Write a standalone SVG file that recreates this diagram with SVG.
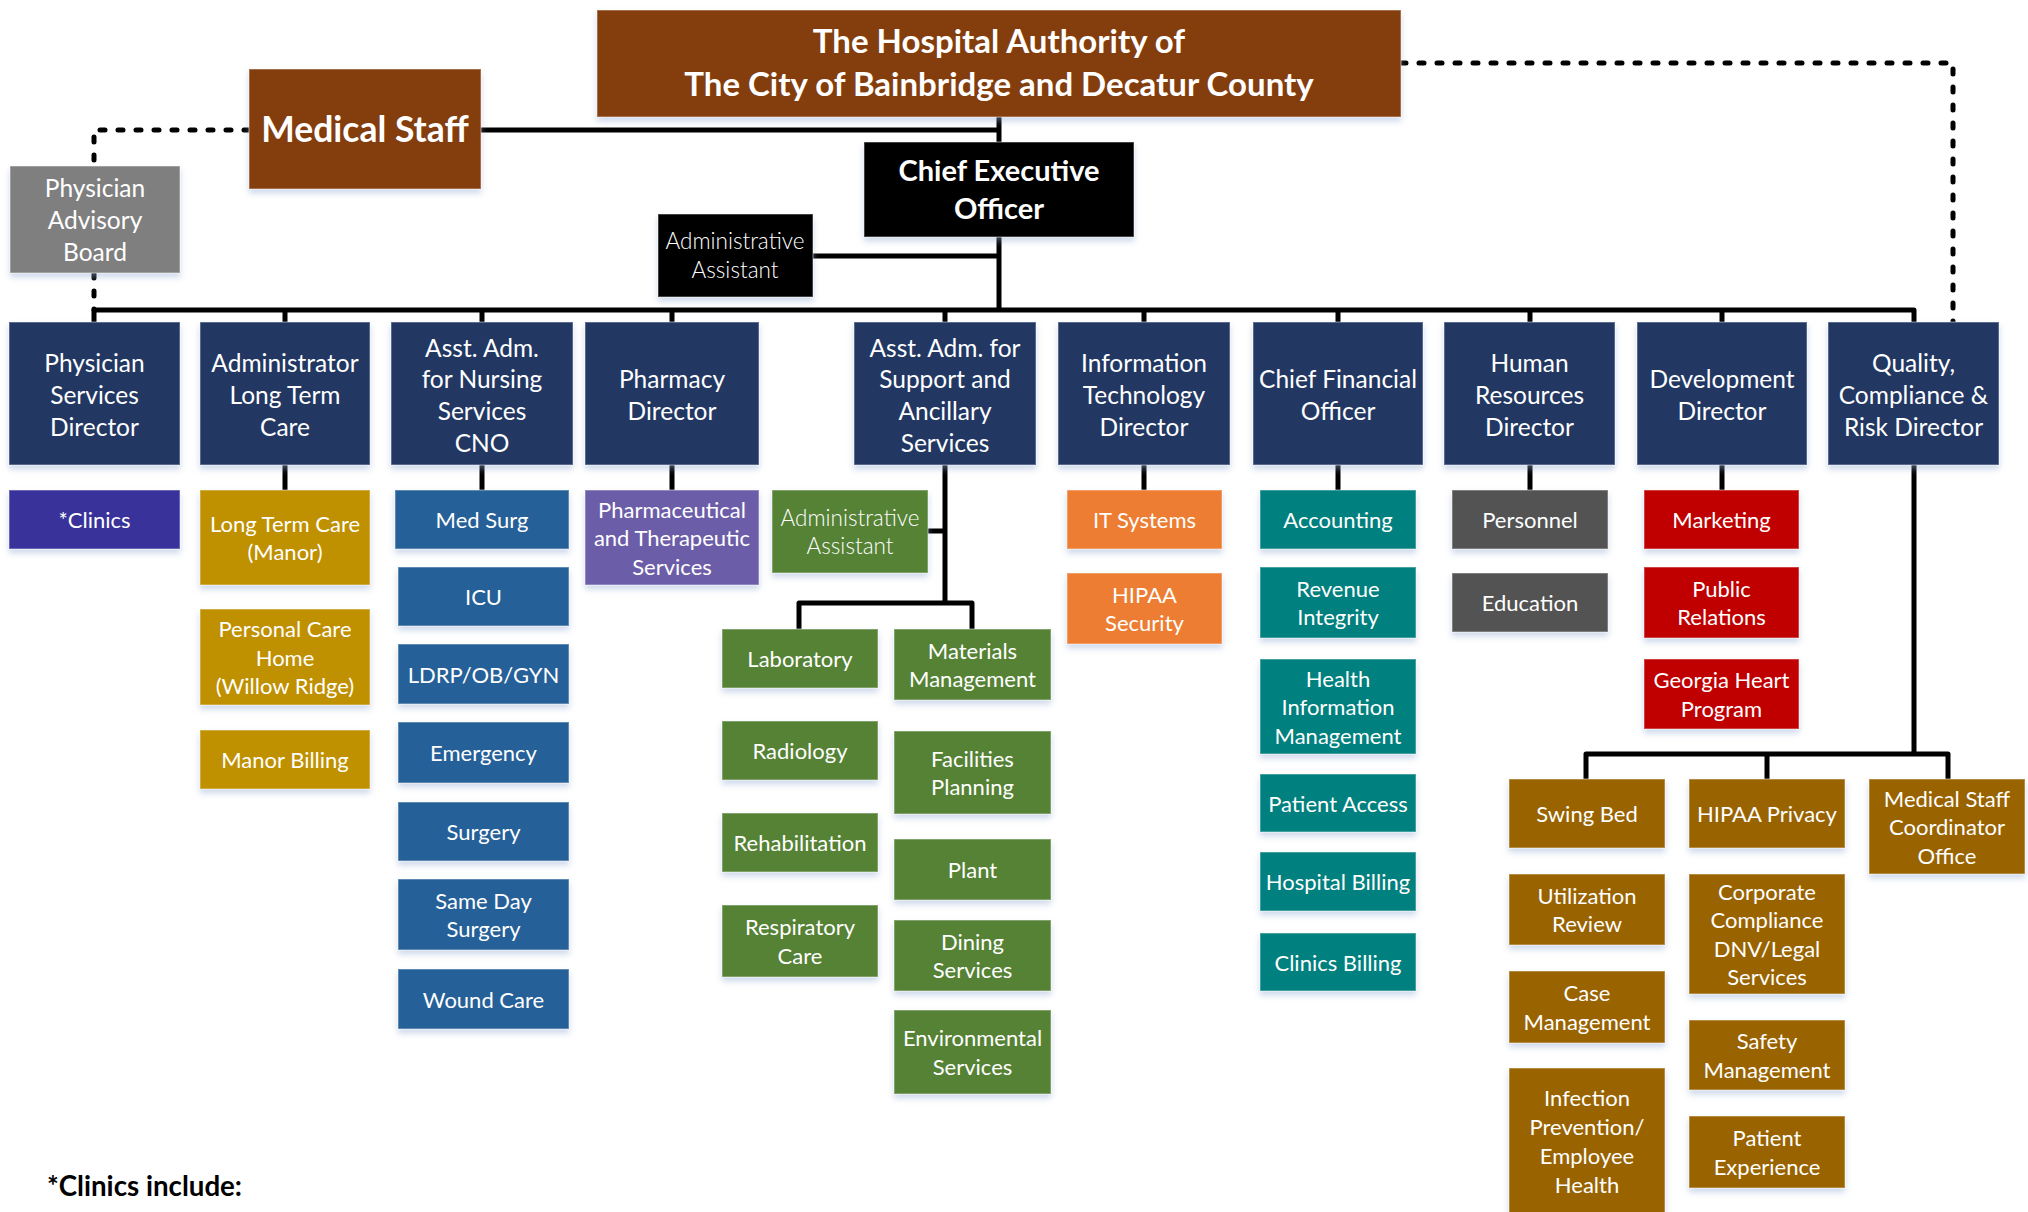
<svg xmlns="http://www.w3.org/2000/svg" width="2028" height="1212" viewBox="0 0 2028 1212">
<defs>
<filter id="sh" x="-10%" y="-10%" width="120%" height="135%">
<feDropShadow dx="0" dy="4" stdDeviation="3" flood-color="#8FA8D0" flood-opacity="0.45"/>
</filter>
<style>
rect{filter:url(#sh);stroke:#ffffff;stroke-opacity:0.35;stroke-width:1.5}
text{font-family:Lato,"Noto Sans",sans-serif;fill:#ffffff;text-anchor:middle}
.d{font-size:24.5px}
.c{font-size:22px}
.l{font-size:22.5px;font-weight:300}
.b{font-weight:700}
.navy{fill:#203864}.brown{fill:#843C0C}.gray{fill:#7F7F7F}.blk{fill:#000000}
.ind{fill:#38329A}.gold{fill:#BF9000}.blue{fill:#266198}.purp{fill:#6C5DA8}
.grn{fill:#548235}.org{fill:#ED7D31}.teal{fill:#02807E}.dg{fill:#525252}
.red{fill:#C00000}.ochre{fill:#996300}
.ln{fill:none;stroke:#000;stroke-width:5;stroke-linejoin:round}
.dot{fill:none;stroke:#000;stroke-width:5;stroke-linecap:round;stroke-dasharray:5 13}
</style>
</defs>
<rect width="2028" height="1212" fill="#ffffff" style="filter:none;stroke:none"/>
<g id="connectors">
<path class="ln" d="M999,117V142M481,130H999M999,237V310M812,256H999"/>
<path class="ln" d="M94,322V310H1914V322M285,310V322M482,310V322M672,310V322M945,310V322M1144,310V322M1338,310V322M1530,310V322M1722,310V322"/>
<path class="ln" d="M285,465V490M482,465V490M672,465V490M1144,465V490M1338,465V490M1530,465V490M1722,465V490"/>
<path class="ln" d="M945,465V603M928,531H945M799,629V603H972V629"/>
<path class="ln" d="M1914,465V754M1586,779V754H1948V779M1767,754V779"/>
<path class="dot" d="M249,130H94V166M94,273V310"/>
<path class="dot" d="M1401,63H1953V322"/>
</g>
<g id="authority"><rect class="brown" x="597" y="10" width="804" height="107"/>
<text class="b" font-size="33"><tspan x="999" y="53">The Hospital Authority of</tspan><tspan x="999" y="96">The City of Bainbridge and Decatur County</tspan></text></g>
<g id="medical-staff"><rect class="brown" x="249" y="69" width="232" height="120"/>
<text class="b" font-size="35.5" x="365" y="142">Medical Staff</text></g>
<g id="physician-advisory-board"><rect class="gray" x="10" y="166" width="170" height="107"/>
<text class="d"><tspan x="95" y="197">Physician</tspan><tspan x="95" y="229">Advisory</tspan><tspan x="95" y="261">Board</tspan></text></g>
<g id="ceo"><rect class="blk" x="864" y="142" width="270" height="95"/>
<text class="b" font-size="29"><tspan x="999" y="181">Chief Executive</tspan><tspan x="999" y="219">Officer</tspan></text></g>
<g id="admin-assistant-ceo"><rect class="blk" x="658" y="214" width="155" height="83"/>
<text class="l"><tspan x="735" y="249">Administrative</tspan><tspan x="735" y="278">Assistant</tspan></text></g>

<g id="physician-services"><rect class="navy" x="9" y="322" width="171" height="143"/>
<text class="d"><tspan x="94.5" y="372.3">Physician</tspan><tspan x="94.5" y="404">Services</tspan><tspan x="94.5" y="435.7">Director</tspan></text></g>
<g id="admin-ltc"><rect class="navy" x="200" y="322" width="170" height="143"/>
<text class="d"><tspan x="285" y="372.3">Administrator</tspan><tspan x="285" y="404">Long Term</tspan><tspan x="285" y="435.7">Care</tspan></text></g>
<g id="cno"><rect class="navy" x="391" y="322" width="182" height="143"/>
<text class="d"><tspan x="482" y="356.5">Asst. Adm.</tspan><tspan x="482" y="388.2">for Nursing</tspan><tspan x="482" y="419.9">Services</tspan><tspan x="482" y="451.6">CNO</tspan></text></g>
<g id="pharmacy"><rect class="navy" x="585" y="322" width="174" height="143"/>
<text class="d"><tspan x="672" y="387.9">Pharmacy</tspan><tspan x="672" y="419.6">Director</tspan></text></g>
<g id="support"><rect class="navy" x="854" y="322" width="182" height="143"/>
<text class="d"><tspan x="945" y="356.5">Asst. Adm. for</tspan><tspan x="945" y="388.2">Support and</tspan><tspan x="945" y="419.9">Ancillary</tspan><tspan x="945" y="451.6">Services</tspan></text></g>
<g id="it"><rect class="navy" x="1058" y="322" width="172" height="143"/>
<text class="d"><tspan x="1144" y="372.3">Information</tspan><tspan x="1144" y="404">Technology</tspan><tspan x="1144" y="435.7">Director</tspan></text></g>
<g id="cfo"><rect class="navy" x="1253" y="322" width="170" height="143"/>
<text class="d"><tspan x="1338" y="387.9">Chief Financial</tspan><tspan x="1338" y="419.6">Officer</tspan></text></g>
<g id="hr"><rect class="navy" x="1444" y="322" width="171" height="143"/>
<text class="d"><tspan x="1529.5" y="372.3">Human</tspan><tspan x="1529.5" y="404">Resources</tspan><tspan x="1529.5" y="435.7">Director</tspan></text></g>
<g id="development"><rect class="navy" x="1637" y="322" width="170" height="143"/>
<text class="d"><tspan x="1722" y="387.9">Development</tspan><tspan x="1722" y="419.6">Director</tspan></text></g>
<g id="quality"><rect class="navy" x="1828" y="322" width="171" height="143"/>
<text class="d"><tspan x="1913.5" y="372.3">Quality,</tspan><tspan x="1913.5" y="404">Compliance &amp;</tspan><tspan x="1913.5" y="435.7">Risk Director</tspan></text></g>

<g id="clinics"><rect class="ind" x="9" y="490" width="171" height="59"/><text class="c" x="94.5" y="528">*Clinics</text></g>
<g id="ltc-manor"><rect class="gold" x="200" y="490" width="170" height="95"/>
<text class="c"><tspan x="285" y="531.8">Long Term Care</tspan><tspan x="285" y="560.3">(Manor)</tspan></text></g>
<g id="personal-care"><rect class="gold" x="200" y="609" width="170" height="96"/>
<text class="c"><tspan x="285" y="637">Personal Care</tspan><tspan x="285" y="665.5">Home</tspan><tspan x="285" y="694">(Willow Ridge)</tspan></text></g>
<g id="manor-billing"><rect class="gold" x="200" y="730" width="170" height="59"/><text class="c" x="285" y="768">Manor Billing</text></g>

<g id="med-surg"><rect class="blue" x="395" y="490" width="174" height="59"/><text class="c" x="482" y="528">Med Surg</text></g>
<g id="icu"><rect class="blue" x="398" y="567" width="171" height="59"/><text class="c" x="483.5" y="605">ICU</text></g>
<g id="ldrp"><rect class="blue" x="398" y="644" width="171" height="60"/><text class="c" x="483.5" y="682.5">LDRP/OB/GYN</text></g>
<g id="emergency"><rect class="blue" x="398" y="722" width="171" height="61"/><text class="c" x="483.5" y="761">Emergency</text></g>
<g id="surgery"><rect class="blue" x="398" y="802" width="171" height="59"/><text class="c" x="483.5" y="840">Surgery</text></g>
<g id="same-day"><rect class="blue" x="398" y="879" width="171" height="71"/>
<text class="c"><tspan x="483.5" y="908.8">Same Day</tspan><tspan x="483.5" y="937.3">Surgery</tspan></text></g>
<g id="wound-care"><rect class="blue" x="398" y="969" width="171" height="60"/><text class="c" x="483.5" y="1007.5">Wound Care</text></g>

<g id="pharmaceutical"><rect class="purp" x="585" y="490" width="174" height="95"/>
<text class="c"><tspan x="672" y="517.5">Pharmaceutical</tspan><tspan x="672" y="546">and Therapeutic</tspan><tspan x="672" y="574.5">Services</tspan></text></g>

<g id="admin-assistant-support"><rect class="grn" x="772" y="490" width="156" height="83"/>
<text class="l"><tspan x="850" y="525.8">Administrative</tspan><tspan x="850" y="554.3">Assistant</tspan></text></g>
<g id="laboratory"><rect class="grn" x="722" y="629" width="156" height="59"/><text class="c" x="800" y="667">Laboratory</text></g>
<g id="materials"><rect class="grn" x="894" y="629" width="157" height="71"/>
<text class="c"><tspan x="972.5" y="658.8">Materials</tspan><tspan x="972.5" y="687.3">Management</tspan></text></g>
<g id="radiology"><rect class="grn" x="722" y="721" width="156" height="59"/><text class="c" x="800" y="759">Radiology</text></g>
<g id="facilities"><rect class="grn" x="894" y="731" width="157" height="83"/>
<text class="c"><tspan x="972.5" y="766.8">Facilities</tspan><tspan x="972.5" y="795.3">Planning</tspan></text></g>
<g id="rehabilitation"><rect class="grn" x="722" y="813" width="156" height="59"/><text class="c" x="800" y="851">Rehabilitation</text></g>
<g id="plant"><rect class="grn" x="894" y="839" width="157" height="61"/><text class="c" x="972.5" y="878">Plant</text></g>
<g id="respiratory"><rect class="grn" x="722" y="905" width="156" height="72"/>
<text class="c"><tspan x="800" y="935.3">Respiratory</tspan><tspan x="800" y="963.8">Care</tspan></text></g>
<g id="dining"><rect class="grn" x="894" y="920" width="157" height="71"/>
<text class="c"><tspan x="972.5" y="949.8">Dining</tspan><tspan x="972.5" y="978.3">Services</tspan></text></g>
<g id="environmental"><rect class="grn" x="894" y="1010" width="157" height="84"/>
<text class="c"><tspan x="972.5" y="1046.3">Environmental</tspan><tspan x="972.5" y="1074.8">Services</tspan></text></g>

<g id="it-systems"><rect class="org" x="1067" y="490" width="155" height="59"/><text class="c" x="1144.5" y="528">IT Systems</text></g>
<g id="hipaa-security"><rect class="org" x="1067" y="573" width="155" height="71"/>
<text class="c"><tspan x="1144.5" y="602.8">HIPAA</tspan><tspan x="1144.5" y="631.3">Security</tspan></text></g>

<g id="accounting"><rect class="teal" x="1260" y="490" width="156" height="59"/><text class="c" x="1338" y="528">Accounting</text></g>
<g id="revenue"><rect class="teal" x="1260" y="567" width="156" height="71"/>
<text class="c"><tspan x="1338" y="596.8">Revenue</tspan><tspan x="1338" y="625.3">Integrity</tspan></text></g>
<g id="him"><rect class="teal" x="1260" y="659" width="156" height="95"/>
<text class="c"><tspan x="1338" y="686.5">Health</tspan><tspan x="1338" y="715">Information</tspan><tspan x="1338" y="743.5">Management</tspan></text></g>
<g id="patient-access"><rect class="teal" x="1260" y="774" width="156" height="58"/><text class="c" x="1338" y="811.5">Patient Access</text></g>
<g id="hospital-billing"><rect class="teal" x="1260" y="852" width="156" height="59"/><text class="c" x="1338" y="890">Hospital Billing</text></g>
<g id="clinics-billing"><rect class="teal" x="1260" y="933" width="156" height="58"/><text class="c" x="1338" y="970.5">Clinics Billing</text></g>

<g id="personnel"><rect class="dg" x="1452" y="490" width="156" height="59"/><text class="c" x="1530" y="528">Personnel</text></g>
<g id="education"><rect class="dg" x="1452" y="573" width="156" height="59"/><text class="c" x="1530" y="611">Education</text></g>

<g id="marketing"><rect class="red" x="1644" y="490" width="155" height="59"/><text class="c" x="1721.5" y="528">Marketing</text></g>
<g id="public-relations"><rect class="red" x="1644" y="567" width="155" height="71"/>
<text class="c"><tspan x="1721.5" y="596.8">Public</tspan><tspan x="1721.5" y="625.3">Relations</tspan></text></g>
<g id="georgia-heart"><rect class="red" x="1644" y="659" width="155" height="70"/>
<text class="c"><tspan x="1721.5" y="688.3">Georgia Heart</tspan><tspan x="1721.5" y="716.8">Program</tspan></text></g>

<g id="swing-bed"><rect class="ochre" x="1509" y="779" width="156" height="69"/><text class="c" x="1587" y="822">Swing Bed</text></g>
<g id="hipaa-privacy"><rect class="ochre" x="1689" y="779" width="156" height="69"/><text class="c" x="1767" y="822">HIPAA Privacy</text></g>
<g id="msco"><rect class="ochre" x="1869" y="779" width="156" height="95"/>
<text class="c"><tspan x="1947" y="806.5">Medical Staff</tspan><tspan x="1947" y="835">Coordinator</tspan><tspan x="1947" y="863.5">Office</tspan></text></g>
<g id="utilization"><rect class="ochre" x="1509" y="874" width="156" height="71"/>
<text class="c"><tspan x="1587" y="903.8">Utilization</tspan><tspan x="1587" y="932.3">Review</tspan></text></g>
<g id="corporate"><rect class="ochre" x="1689" y="874" width="156" height="120"/>
<text class="c"><tspan x="1767" y="899.8">Corporate</tspan><tspan x="1767" y="928.3">Compliance</tspan><tspan x="1767" y="956.8">DNV/Legal</tspan><tspan x="1767" y="985.3">Services</tspan></text></g>
<g id="case"><rect class="ochre" x="1509" y="971" width="156" height="72"/>
<text class="c"><tspan x="1587" y="1001.3">Case</tspan><tspan x="1587" y="1029.8">Management</tspan></text></g>
<g id="safety"><rect class="ochre" x="1689" y="1020" width="156" height="70"/>
<text class="c"><tspan x="1767" y="1049.3">Safety</tspan><tspan x="1767" y="1077.8">Management</tspan></text></g>
<g id="infection"><rect class="ochre" x="1509" y="1068" width="156" height="150"/>
<text class="c"><tspan x="1587" y="1106">Infection</tspan><tspan x="1587" y="1135">Prevention/</tspan><tspan x="1587" y="1164">Employee</tspan><tspan x="1587" y="1193">Health</tspan></text></g>
<g id="patient-experience"><rect class="ochre" x="1689" y="1116" width="156" height="72"/>
<text class="c"><tspan x="1767" y="1146.3">Patient</tspan><tspan x="1767" y="1174.8">Experience</tspan></text></g>

<text x="47" y="1196" font-size="27.7" class="b" style="fill:#000000;text-anchor:start">*Clinics include:</text>
</svg>
